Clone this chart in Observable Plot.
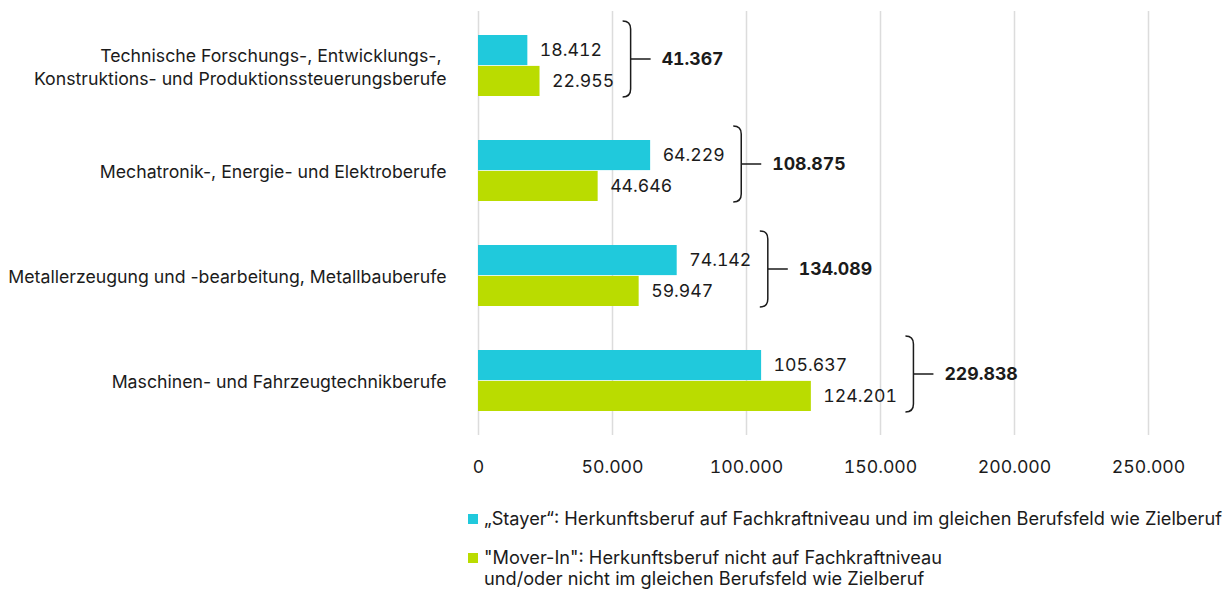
<!DOCTYPE html>
<html>
<head>
<meta charset="utf-8">
<script src="https://cdn.jsdelivr.net/npm/d3@7"></script>
<script src="https://cdn.jsdelivr.net/npm/@observablehq/plot@0.6"></script>
<style>
  html, body { margin: 0; padding: 0; background: #fff; }
  body { width: 1232px; height: 590px; overflow: hidden; font-family: Inter, sans-serif; color: #1b1b1b; }
  #chart svg { display: block; font-variant-numeric: tabular-nums; }
  #chart svg g[aria-label="y-axis tick label"] { font-variant-numeric: normal; }
  .legend { padding-left: 468px; font-size: 18.2px; line-height: 21px; }
  .legend .item { display: flex; align-items: flex-start; margin-top: 18px; }
  .legend .sw { width: 10px; height: 10px; flex: none; margin-top: 6px; margin-right: 6px; }
</style>
</head>
<body>
<div id="chart"></div>
<div class="legend" id="legend"></div>
<script>
const categories = [
  "Technische Forschungs-, Entwicklungs-,\u00a0\nKonstruktions- und Produktionssteuerungsberufe",
  "Mechatronik-, Energie- und Elektroberufe",
  "Metallerzeugung und -bearbeitung, Metallbauberufe",
  "Maschinen- und Fahrzeugtechnikberufe"
];
const stayer = [18412, 64229, 74142, 105637];
const moverIn = [22955, 44646, 59947, 124201];
const totals = [41367, 108875, 134089, 229838];
const xTicks = [0, 50000, 100000, 150000, 200000, 250000];
const seriesNames = [
  "„Stayer“: Herkunftsberuf auf Fachkraftniveau und im gleichen Berufsfeld wie Zielberuf",
  "\"Mover-In\": Herkunftsberuf nicht auf Fachkraftniveau\nund/oder nicht im gleichen Berufsfeld wie Zielberuf"
];
const colors = ["#20c9dc", "#badc00"];
const FONT = "Inter, sans-serif";
const FS = 17.7;

const de = d3.formatLocale({decimal: ",", thousands: ".", grouping: [3], currency: ["", " €"]});
const fmt = de.format(",d");

const rows = categories.map((c, i) => ({cat: c, stayer: stayer[i], mover: moverIn[i], total: totals[i]}));

const width = 1232, height = 490;
const marginTop = 11, marginBottom = 55, marginLeft = 478, marginRight = 84;
const padInner = 0.415, padOuter = 0.215;
const band = d3.scaleBand().domain(categories).range([marginTop, height - marginBottom])
  .paddingInner(padInner).paddingOuter(padOuter);
const half = band.bandwidth() / 2;
const labelDx = 12;

const plot = Plot.plot({
  width, height, marginTop, marginBottom, marginLeft, marginRight,
  style: {fontFamily: FONT, fontSize: FS + "px", color: "#1b1b1b", background: "#fff"},
  x: {domain: [0, 250000], label: null},
  y: {domain: categories, paddingInner: padInner, paddingOuter: padOuter, label: null},
  marks: [
    Plot.gridX(xTicks, {stroke: "#dcdcdc", strokeOpacity: 1, strokeWidth: 1.5}),
    Plot.axisX({ticks: xTicks, tickFormat: fmt, tickSize: 0, tickPadding: 25, label: null, fill: "#1b1b1b"}),
    Plot.axisY({tickSize: 0, tickPadding: 32, label: null, lineHeight: 1.28, fill: "#1b1b1b"}),
    Plot.barX(rows, {y: "cat", x: "stayer", fill: colors[0], insetBottom: half}),
    Plot.barX(rows, {y: "cat", x: "mover", fill: colors[1], insetTop: half}),
    Plot.text(rows, {y: "cat", x: "stayer", text: d => fmt(d.stayer), textAnchor: "start", dx: labelDx, dy: -half / 2, fill: "#1b1b1b"}),
    Plot.text(rows, {y: "cat", x: "mover", text: d => fmt(d.mover), textAnchor: "start", dx: labelDx, dy: half / 2, fill: "#1b1b1b"})
  ]
});
document.getElementById("chart").appendChild(plot);

// brackets and totals, positioned from the scales and the rendered label extents
const svg = d3.select(plot);
const xS = plot.scale("x"), yS = plot.scale("y");
const textGroups = svg.selectAll('g[aria-label="text"]').nodes();
const labS = textGroups.length >= 2 ? Array.from(textGroups[0].querySelectorAll("text")) : [];
const labM = textGroups.length >= 2 ? Array.from(textGroups[1].querySelectorAll("text")) : [];
const ctx = document.createElement("canvas").getContext("2d");
ctx.font = `${FS}px ${FONT}`;
const widthOf = (nodes, i, s) => nodes[i] ? nodes[i].getComputedTextLength() : ctx.measureText(s).width;
const g = svg.append("g").attr("text-anchor", "start");
rows.forEach((r, i) => {
  const e1 = xS.apply(r.stayer) + labelDx + widthOf(labS, i, fmt(r.stayer));
  const e2 = xS.apply(r.mover) + labelDx + widthOf(labM, i, fmt(r.mover));
  const bx = Math.max(e1, e2) + 17;
  const yc = yS.apply(r.cat) + band.bandwidth() / 2 - 7;
  const top = yc - 38, bot = yc + 38, h = 8;
  g.append("path")
    .attr("d", `M${bx - h},${top} Q${bx},${top} ${bx},${top + h} L${bx},${bot - h} Q${bx},${bot} ${bx - h},${bot} M${bx},${yc} L${bx + 20},${yc}`)
    .attr("fill", "none").attr("stroke", "#1b1b1b").attr("stroke-width", 1.5);
  g.append("text").attr("x", bx + 31).attr("y", yc).attr("dy", "0.35em")
    .attr("text-anchor", "start")
    .attr("font-weight", "bold").attr("fill", "#1b1b1b").text(fmt(r.total));
});

// legend
const leg = d3.select("#legend");
seriesNames.forEach((n, i) => {
  const it = leg.append("div").attr("class", "item");
  it.append("div").attr("class", "sw").style("background", colors[i]);
  it.append("div").html(n.replace("\n", "<br>"));
});
</script>
</body>
</html>
